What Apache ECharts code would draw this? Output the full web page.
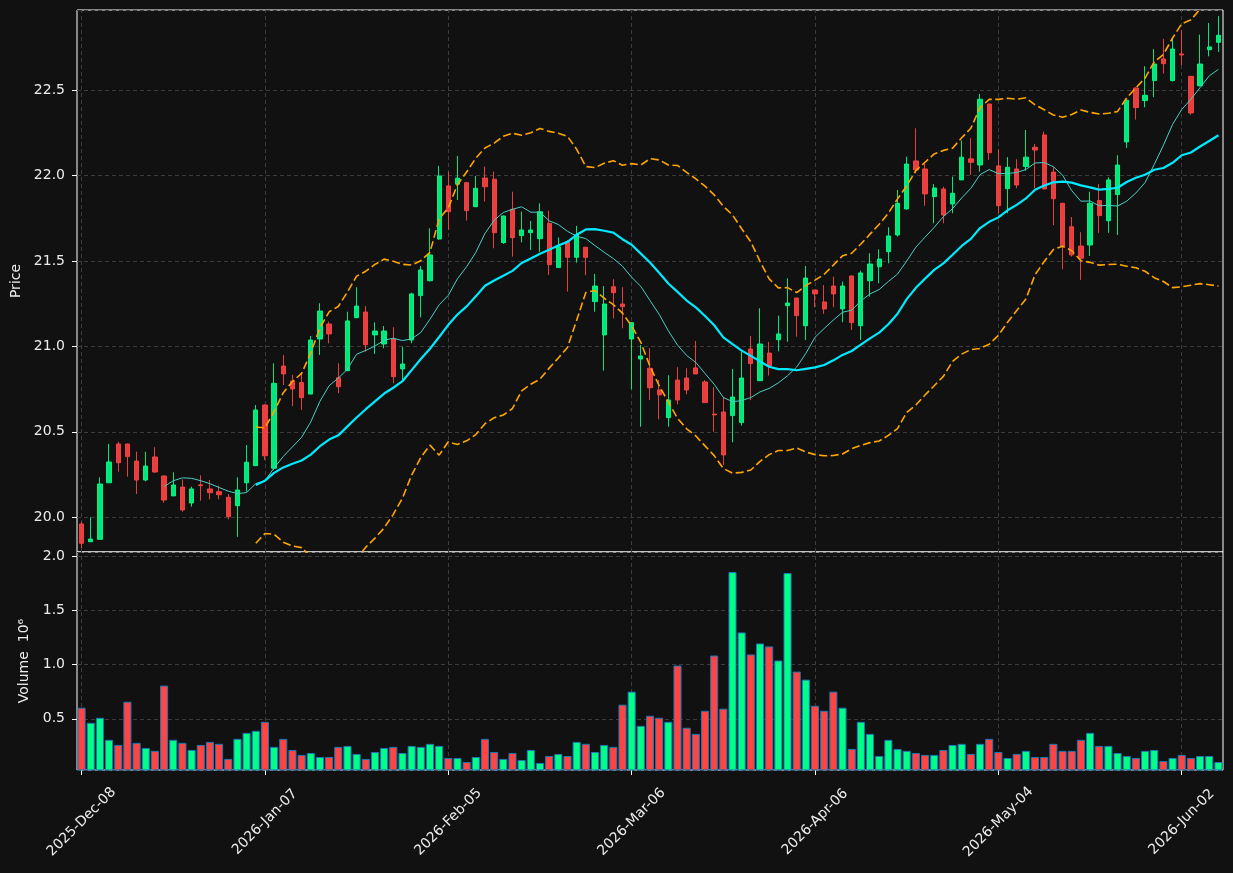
<!DOCTYPE html>
<html>
<head>
<meta charset="utf-8">
<title>Price / Volume</title>
<script src="https://cdn.jsdelivr.net/npm/echarts@6/dist/echarts.min.js"></script>
<style>
  html, body { margin:0; padding:0; background:#111111; }
  #chart { width:1233px; height:873px; }
</style>
</head>
<body>
<div id="chart"></div>
<script>
// trading days per month (categories)
const tradingDays = [
  ['2025', 'Dec', [8,9,10,11,12,15,16,17,18,19,22,23,24,26,29,30,31]],
  ['2026', 'Jan', [2,5,6,7,8,9,12,13,14,15,16,20,21,22,23,26,27,28,29,30]],
  ['2026', 'Feb', [2,3,4,5,6,9,10,11,12,13,17,18,19,20,23,24,25,26,27]],
  ['2026', 'Mar', [2,3,4,5,6,9,10,11,12,13,16,17,18,19,20,23,24,25,26,27,30,31]],
  ['2026', 'Apr', [1,2,6,7,8,9,10,13,14,15,16,17,20,21,22,23,24,27,28,29,30]],
  ['2026', 'May', [1,4,5,6,7,8,11,12,13,14,15,18,19,20,21,22,26,27,28,29]],
  ['2026', 'Jun', [1,2,3,4,5,8]]
];
const dates = [];
tradingDays.forEach(([y, m, days]) => {
  days.forEach(d => dates.push(y + '-' + m + '-' + String(d).padStart(2, '0')));
});

const opens = [
  19.961,19.857,19.871,20.202,20.429,20.429,20.329,20.218,20.353,20.242,
  20.125,20.177,20.084,20.19,20.166,20.15,20.117,20.068,20.202,20.302,
  20.657,20.287,20.885,20.798,20.788,20.721,21.043,21.131,20.817,20.858,
  21.168,21.201,21.067,21.014,21.043,20.868,21.037,21.297,21.384,21.628,
  21.939,21.949,21.958,21.817,21.985,21.978,21.607,21.802,21.648,21.665,
  21.630,21.720,21.461,21.613,21.521,21.580,21.262,21.067,21.349,21.248,
  21.043,20.926,20.872,20.745,20.583,20.803,20.815,20.874,20.792,20.604,
  20.616,20.595,20.554,20.985,20.799,20.961,21.039,21.238,21.283,21.121,
  21.330,21.260,21.353,21.219,21.412,21.121,21.384,21.466,21.554,21.652,
  21.804,22.085,22.038,21.876,21.921,21.833,21.974,22.097,22.061,22.418,
  22.056,21.923,22.038,22.052,22.165,22.237,22.020,21.837,21.700,21.587,
  21.593,21.853,21.735,21.888,22.196,22.512,22.438,22.555,22.682,22.555,
  22.711,22.580,22.525,22.736,22.779
];
const highs = [
  19.975,20.0,20.234,20.429,20.442,20.43,20.384,20.384,20.41,20.245,
  20.263,20.222,20.179,20.246,20.218,20.185,20.136,20.234,20.423,20.657,
  20.66,20.901,20.950,20.833,20.843,21.061,21.252,21.145,20.901,21.203,
  21.346,21.236,21.141,21.119,21.112,20.998,21.314,21.470,21.691,22.056,
  22.022,22.114,21.96,21.997,22.052,22.022,21.765,21.905,21.788,21.734,
  21.837,21.794,21.638,21.623,21.705,21.58,21.424,21.353,21.393,21.346,
  21.14,21.008,20.989,20.803,20.831,20.878,20.872,21.032,20.803,20.761,
  20.706,20.868,20.969,21.061,21.223,21.026,21.180,21.398,21.285,21.470,
  21.33,21.359,21.408,21.379,21.415,21.443,21.545,21.568,21.697,21.915,
  22.110,22.276,22.067,21.950,21.934,21.993,22.204,22.218,22.477,22.42,
  22.153,22.107,22.095,22.266,22.184,22.256,22.048,21.84,21.757,21.668,
  21.905,21.950,21.989,22.118,22.445,22.515,22.639,22.740,22.799,22.805,
  22.850,22.58,22.824,22.892,22.932
];
const lows = [
  19.82,19.855,19.87,20.20,20.267,20.238,20.136,20.211,20.26,20.085,
  20.125,20.033,20.062,20.097,20.105,20.105,19.988,19.886,20.15,20.30,
  20.335,20.277,20.774,20.651,20.628,20.72,20.950,21.018,20.726,20.855,
  21.165,20.969,20.956,20.989,20.784,20.803,21.018,21.170,21.38,21.625,
  21.681,21.857,21.736,21.815,21.847,21.574,21.60,21.525,21.609,21.564,
  21.554,21.418,21.46,21.320,21.490,21.416,21.203,20.858,21.164,21.106,
  20.749,20.530,20.686,20.573,20.530,20.661,20.720,20.838,20.67,20.501,
  20.306,20.439,20.536,20.686,20.798,20.829,20.971,21.027,21.057,21.037,
  21.229,21.190,21.229,21.141,21.096,21.037,21.291,21.369,21.486,21.642,
  21.80,22.013,21.823,21.720,21.720,21.779,21.973,22.003,22.022,22.091,
  21.779,21.779,21.925,22.028,21.925,21.92,21.709,21.451,21.525,21.389,
  21.529,21.664,21.664,21.652,22.161,22.327,22.399,22.458,22.596,22.55,
  22.645,22.356,22.52,22.697,22.723
];
const closes = [
  19.848,19.873,20.195,20.324,20.319,20.355,20.218,20.300,20.265,20.101,
  20.189,20.043,20.166,20.185,20.144,20.132,20.004,20.160,20.322,20.628,
  20.360,20.784,20.839,20.751,20.700,21.037,21.207,21.073,20.764,21.149,
  21.236,21.010,21.090,21.090,20.823,20.897,21.307,21.447,21.535,21.997,
  21.788,21.984,21.794,21.925,21.934,21.665,21.763,21.636,21.681,21.681,
  21.788,21.478,21.583,21.521,21.652,21.521,21.353,21.248,21.314,21.232,
  21.139,20.944,20.758,20.716,20.686,20.686,20.745,20.839,20.671,20.599,
  20.365,20.704,20.815,20.899,21.014,20.887,21.073,21.254,21.180,21.400,
  21.307,21.219,21.307,21.353,21.139,21.430,21.482,21.511,21.646,21.837,
  22.067,22.032,21.892,21.927,21.769,21.896,22.107,22.077,22.446,22.133,
  21.823,22.048,21.944,22.107,22.149,21.921,21.864,21.587,21.535,21.515,
  21.837,21.765,21.974,22.061,22.440,22.397,22.469,22.652,22.654,22.740,
  22.705,22.366,22.652,22.752,22.820
];
// volume in millions
const volumes = [
  0.602,0.463,0.509,0.306,0.259,0.657,0.278,0.231,0.204,0.806,
  0.306,0.278,0.213,0.259,0.287,0.269,0.130,0.315,0.370,0.389,
  0.472,0.241,0.315,0.213,0.167,0.185,0.148,0.148,0.241,0.250,
  0.176,0.130,0.194,0.231,0.241,0.185,0.250,0.241,0.269,0.250,
  0.139,0.139,0.102,0.148,0.315,0.194,0.130,0.185,0.120,0.213,
  0.093,0.157,0.176,0.157,0.287,0.269,0.194,0.259,0.241,0.630,
  0.750,0.435,0.528,0.509,0.472,0.991,0.417,0.361,0.574,1.083,
  0.593,1.852,1.296,1.093,1.194,1.167,1.037,1.843,0.935,0.861,
  0.620,0.574,0.750,0.602,0.222,0.472,0.361,0.157,0.306,0.222,
  0.204,0.185,0.167,0.167,0.213,0.259,0.269,0.176,0.269,0.315,
  0.194,0.139,0.176,0.204,0.148,0.148,0.269,0.204,0.204,0.306,
  0.370,0.250,0.250,0.185,0.157,0.139,0.204,0.213,0.111,0.139,
  0.167,0.139,0.157,0.157,0.102
];
const priceTicks = [20.0, 20.5, 21.0, 21.5, 22.0, 22.5];
const volumeTicks = [0.5, 1.0, 1.5, 2.0];
const dateTickIdx = [0, 20, 40, 60, 80, 100, 120];

// rolling mean / bollinger (20, 2) of the closes
function sma(arr, n) {
  return arr.map((v, i) => {
    if (i < n - 1) return null;
    let s = 0;
    for (let k = i - n + 1; k <= i; k++) s += arr[k];
    return +(s / n).toFixed(4);
  });
}
function band(arr, n, mult, sign) {
  const mid = sma(arr, n);
  return arr.map((v, i) => {
    if (mid[i] === null) return null;
    let s = 0;
    for (let k = i - n + 1; k <= i; k++) s += (arr[k] - mid[i]) * (arr[k] - mid[i]);
    return +(mid[i] + sign * mult * Math.sqrt(s / n)).toFixed(4);
  });
}

const UP = '#00ff88', DOWN = '#ff4444';
const gridColor = '#3c3c3c';
const txt = '#ececec';
const font = 'DejaVu Sans';

const candleData = opens.map((o, i) => [o, closes[i], lows[i], highs[i]]);
const volData = volumes.map((v, i) => ({
  value: v,
  itemStyle: { color: closes[i] >= opens[i] ? UP : DOWN }
}));

// vertical dashed grid at the date ticks, kept behind the marks
function vGridLines(xi, yi) {
  return {
    type: 'line', xAxisIndex: xi, yAxisIndex: yi, data: [], z: 1, silent: true,
    markLine: {
      z: 1, symbol: ['none', 'none'], silent: true, animation: false,
      label: { show: false },
      lineStyle: { color: gridColor, type: [4, 3], width: 1 },
      data: dateTickIdx.map(i => ({ xAxis: dates[i] }))
    }
  };
}

const chart = echarts.init(document.getElementById('chart'));
const option = {
  backgroundColor: '#111111',
  animation: false,
  textStyle: { fontFamily: font },
  grid: [
    { left: 77, right: 10, top: 10, height: 542, show: true, backgroundColor: '#111111', borderColor: '#ffffff', borderWidth: 1 },
    { left: 77, right: 10, top: 552, height: 218, show: true, backgroundColor: '#111111', borderColor: '#ffffff', borderWidth: 1 }
  ],
  xAxis: [
    {
      type: 'category', gridIndex: 0, data: dates, boundaryGap: true,
      axisLine: { show: false }, axisTick: { show: false }, axisLabel: { show: false },
      splitLine: { show: false }
    },
    {
      type: 'category', gridIndex: 1, data: dates, boundaryGap: true,
      axisLine: { show: false },
      axisTick: { show: true, alignWithLabel: true, interval: 19, length: 5, lineStyle: { color: '#ffffff' } },
      axisLabel: {
        interval: 19, rotate: 45, align: 'center', verticalAlign: 'middle', margin: 52,
        color: txt, fontSize: 14, fontFamily: font
      },
      splitLine: { show: false }
    }
  ],
  yAxis: [
    {
      type: 'value', gridIndex: 0, min: 19.797, max: 22.968, splitNumber: 6, scale: true,
      name: 'Price', nameLocation: 'middle', nameGap: 52, nameRotate: 90,
      nameTextStyle: { color: txt, fontSize: 14, fontFamily: font },
      axisLine: { show: false },
      axisTick: { show: true, length: 5, lineStyle: { color: '#ffffff' } },
      axisLabel: {
        color: txt, fontSize: 14, fontFamily: font, margin: 12,
        showMinLabel: false, showMaxLabel: false,
        formatter: v => priceTicks.some(t => Math.abs(t - v) < 1e-6) ? v.toFixed(1) : ''
      },
      splitLine: { show: true, lineStyle: { color: gridColor, type: [4, 3], width: 1 } }
    },
    {
      type: 'value', gridIndex: 1, min: 0.028, max: 2.037, splitNumber: 4,
      name: 'Volume  10\u2076', nameLocation: 'middle', nameGap: 45, nameRotate: 90,
      nameTextStyle: { color: txt, fontSize: 14, fontFamily: font },
      axisLine: { show: false },
      axisTick: { show: true, length: 5, lineStyle: { color: '#ffffff' } },
      axisLabel: {
        color: txt, fontSize: 14, fontFamily: font, margin: 12,
        showMinLabel: false, showMaxLabel: false,
        formatter: v => volumeTicks.some(t => Math.abs(t - v) < 1e-6) ? v.toFixed(1) : ''
      },
      splitLine: { show: true, lineStyle: { color: gridColor, type: [4, 3], width: 1 } }
    }
  ],
  series: [
    vGridLines(0, 0),
    vGridLines(1, 1),
    {
      name: 'OHLC', type: 'candlestick', xAxisIndex: 0, yAxisIndex: 0,
      data: candleData, barWidth: '52%', z: 3,
      itemStyle: {
        color: 'rgba(0,255,136,0.9)', color0: 'rgba(255,68,68,0.9)',
        borderColor: 'rgba(0,255,136,0.9)', borderColor0: 'rgba(255,68,68,0.9)',
        borderColorDoji: 'rgba(255,68,68,0.9)', borderWidth: 1
      }
    },
    {
      name: 'SMA10', type: 'line', xAxisIndex: 0, yAxisIndex: 0, data: sma(closes, 10),
      symbol: 'none', z: 4, lineStyle: { color: '#48cfc6', width: 1 }
    },
    {
      name: 'SMA20', type: 'line', xAxisIndex: 0, yAxisIndex: 0, data: sma(closes, 20),
      symbol: 'none', z: 4, lineStyle: { color: '#00eaff', width: 2.2 }
    },
    {
      name: 'BB upper', type: 'line', xAxisIndex: 0, yAxisIndex: 0, data: band(closes, 20, 2, 1),
      symbol: 'none', z: 4, lineStyle: { color: '#ffa500', width: 1.6, type: [8, 3.5] }
    },
    {
      name: 'BB lower', type: 'line', xAxisIndex: 0, yAxisIndex: 0, data: band(closes, 20, 2, -1),
      symbol: 'none', z: 4, lineStyle: { color: '#ffa500', width: 1.6, type: [8, 3.5] }
    },
    {
      name: 'Volume', type: 'bar', xAxisIndex: 1, yAxisIndex: 1, data: volData,
      barWidth: '88%', z: 3,
      itemStyle: { borderColor: '#1f77b4', borderWidth: 1 }
    }
  ]
};
chart.setOption(option);
</script>
</body>
</html>
